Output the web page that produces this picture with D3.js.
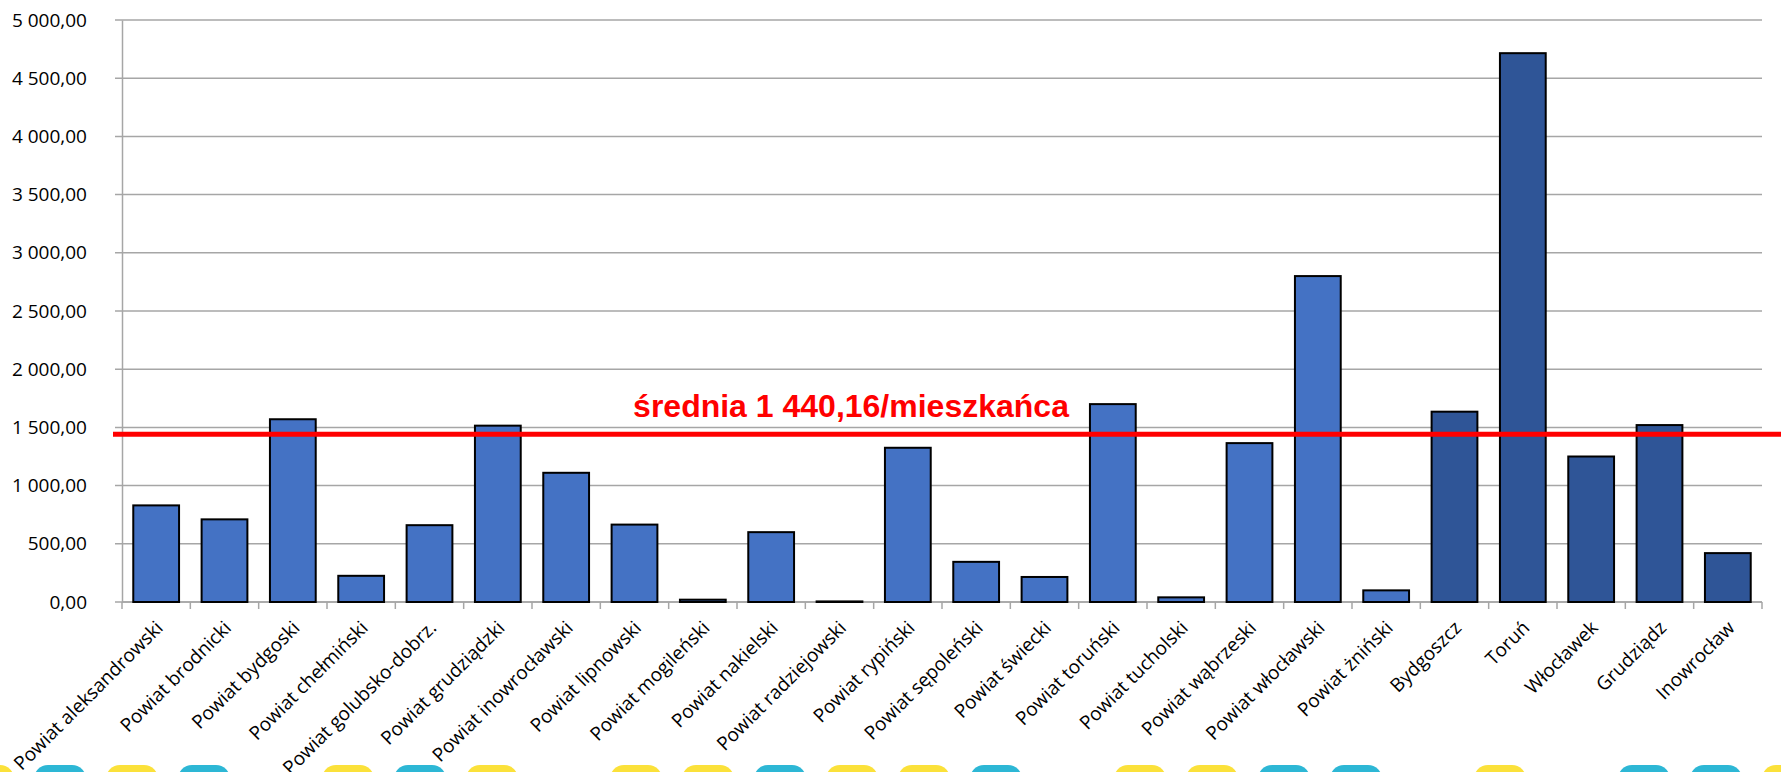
<!DOCTYPE html>
<html lang="pl">
<head>
<meta charset="utf-8">
<style>
    body { margin: 0; background: #fff; }
    svg { display: block; }
    .tick text { font-family: "Open Sans", sans-serif; font-size: 19px; fill: #000; }
    .grid line { stroke: #a6a6a6; stroke-width: 1.5px; }
</style>
</head>
<body>
<svg width="1781" height="772"></svg>

<script src="https://cdn.jsdelivr.net/npm/d3@7"></script>
<script>

// kategorie (powiaty i miasta na prawach powiatu)
var categories = ["Powiat aleksandrowski", "Powiat brodnicki", "Powiat bydgoski", "Powiat chełmiński",
    "Powiat golubsko-dobrz.", "Powiat grudziądzki", "Powiat inowrocławski", "Powiat lipnowski",
    "Powiat mogileński", "Powiat nakielski", "Powiat radziejowski", "Powiat rypiński",
    "Powiat sępoleński", "Powiat świecki", "Powiat toruński", "Powiat tucholski",
    "Powiat wąbrzeski", "Powiat włocławski", "Powiat żniński",
    "Bydgoszcz", "Toruń", "Włocławek", "Grudziądz", "Inowrocław"];

// kwota na mieszkańca
var values = [830, 710, 1570, 225, 660, 1515, 1110, 665, 20, 600, 5, 1325,
    345, 215, 1700, 40, 1365, 2800, 100,
    1635, 4715, 1250, 1520, 420];

// 0 = powiat, 1 = miasto
var kind = [0, 0, 0, 0, 0, 0, 0, 0, 0, 0, 0, 0, 0, 0, 0, 0, 0, 0, 0,
    1, 1, 1, 1, 1];

var yTicks = [0, 500, 1000, 1500, 2000, 2500, 3000, 3500, 4000, 4500, 5000];
var average = 1440.16;
var averageLabel = "średnia 1 440,16/mieszkańca";

// ozdobny pasek na dole (Y = żółty, C = niebieski, - = pusto)
var strip = ["Y", "C", "Y", "C", "-", "Y", "C", "Y", "-", "Y", "Y", "C", "Y",
    "Y", "C", "-", "Y", "Y", "C", "C", "-", "Y", "-", "C", "C", "Y"];

var svg = d3.select("svg");

var plotLeft = 122, plotRight = 1762, plotTop = 20, plotBottom = 602;

var pl = d3.formatLocale({ decimal: ",", thousands: "\u00a0", grouping: [3], currency: ["", " zł"] });
var fmt = pl.format(",.2f");

var x = d3.scaleBand()
    .domain(categories)
    .range([plotLeft, plotRight])
    .paddingInner(0.33)
    .paddingOuter(0.165);

var y = d3.scaleLinear()
    .domain([0, 5000])
    .range([plotBottom, plotTop]);

// linie siatki
svg.append("g")
    .attr("class", "grid")
    .selectAll("line")
    .data(yTicks)
    .enter().append("line")
    .attr("x1", plotLeft - 7)
    .attr("x2", plotRight)
    .attr("y1", function(d) { return y(d); })
    .attr("y2", function(d) { return y(d); });

// oś Y
var yAxis = svg.append("g")
    .attr("transform", "translate(" + plotLeft + ",0)")
    .call(d3.axisLeft(y).tickValues(yTicks).tickFormat(fmt).tickSize(0).tickPadding(35));
yAxis.select(".domain").attr("stroke", "#a6a6a6").attr("stroke-width", 1.5);

// oś X
var step = x.step();
var bounds = d3.range(categories.length + 1).map(function(i) { return plotLeft + i * step; });

svg.append("g")
    .selectAll("line")
    .data(bounds)
    .enter().append("line")
    .attr("x1", function(d) { return d; })
    .attr("x2", function(d) { return d; })
    .attr("y1", plotBottom)
    .attr("y2", plotBottom + 7)
    .attr("stroke", "#a6a6a6")
    .attr("stroke-width", 1.5);

svg.append("line")
    .attr("x1", plotLeft).attr("x2", plotRight)
    .attr("y1", plotBottom).attr("y2", plotBottom)
    .attr("stroke", "#a6a6a6")
    .attr("stroke-width", 1.5);

svg.append("g")
    .selectAll("text")
    .data(categories)
    .enter().append("text")
    .attr("transform", function(d) {
        return "translate(" + (x(d) + x.bandwidth() / 2 + 8) + "," + (plotBottom + 27) + ") rotate(-45)";
    })
    .attr("text-anchor", "end")
    .style("font-family", "'Open Sans', sans-serif")
    .style("font-size", "19px")
    .text(function(d) { return d; });

// słupki
svg.append("g")
    .selectAll("rect")
    .data(categories)
    .enter().append("rect")
    .attr("x", function(d) { return x(d); })
    .attr("width", x.bandwidth())
    .attr("y", function(d, i) { return y(values[i]); })
    .attr("height", function(d, i) { return plotBottom - y(values[i]); })
    .attr("fill", function(d, i) { return kind[i] ? "#2f5597" : "#4472c4"; })
    .attr("stroke", "#000")
    .attr("stroke-width", 2);

// średnia
svg.append("line")
    .attr("x1", 113)
    .attr("x2", 1781)
    .attr("y1", y(average))
    .attr("y2", y(average))
    .attr("stroke", "#ff0000")
    .attr("stroke-width", 5);

svg.append("text")
    .attr("x", 851)
    .attr("y", y(average) - 17)
    .attr("text-anchor", "middle")
    .style("font-family", "'Liberation Sans', Arial, sans-serif")
    .style("font-weight", "bold")
    .style("font-size", "32px")
    .attr("fill", "#ff0000")
    .text(averageLabel);

// pasek ozdobny
svg.append("g")
    .selectAll("rect")
    .data(strip)
    .enter().append("rect")
    .attr("x", function(d, i) { return -38 + i * 72; })
    .attr("y", 765)
    .attr("width", 52)
    .attr("height", 30)
    .attr("rx", 14)
    .attr("fill", function(d) { return d === "Y" ? "#fbe13a" : d === "C" ? "#2db7d5" : "none"; });

</script>
</body>
</html>
